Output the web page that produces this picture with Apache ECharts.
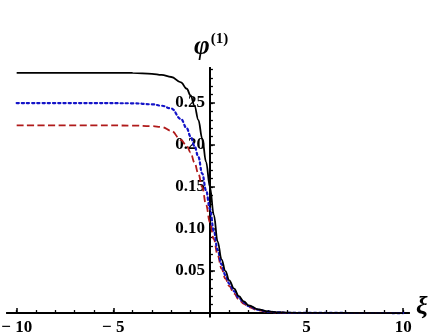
<!DOCTYPE html>
<html><head><meta charset="utf-8">
<script src="https://cdn.jsdelivr.net/npm/echarts@6/dist/echarts.min.js"></script>
<style>html,body{margin:0;padding:0;background:#fff}#c{width:436px;height:335px}</style>
</head><body><div id="c"></div>
<script>
var xi = [-10, -6, -4, -3, -2.5, -2, -1.5, -1.2, -1, -0.8, -0.6, -0.4, -0.2, 0, 0.2, 0.4, 0.6, 0.8, 1.0, 1.25, 1.5, 1.75, 2, 2.5, 3, 3.5, 4, 5, 10];
var blackVals = [0.286, 0.286, 0.2858, 0.2848, 0.2835, 0.281, 0.2745, 0.267, 0.259, 0.247, 0.230, 0.208, 0.180, 0.150, 0.117, 0.085, 0.064, 0.050, 0.039, 0.029, 0.020, 0.0138, 0.0092, 0.0044, 0.002, 0.0009, 0.0004, 0.0001, 0];
var blueVals  = [0.250, 0.250, 0.2497, 0.2485, 0.2468, 0.2435, 0.231, 0.220, 0.210, 0.199, 0.186, 0.166, 0.146, 0.124, 0.098, 0.075, 0.058, 0.045, 0.035, 0.026, 0.018, 0.0125, 0.0083, 0.0039, 0.0017, 0.0008, 0.0003, 0.0001, 0];
var redVals   = [0.2235, 0.2235, 0.2232, 0.2225, 0.2215, 0.217, 0.206, 0.199, 0.191, 0.179, 0.166, 0.150, 0.129, 0.108, 0.088, 0.069, 0.053, 0.041, 0.032, 0.023, 0.016, 0.011, 0.0072, 0.0033, 0.0014, 0.0006, 0.0003, 0.0001, 0];
var xMinorTicks = [-10,-9,-8,-7,-6,-5,-4,-3,-2,-1,1,2,3,4,5,6,7,8,9,10];
var xMajorTicks = [-10, -5, 5, 10];
var yMinorTicks = [0.01,0.02,0.03,0.04,0.05,0.06,0.07,0.08,0.09,0.10,0.11,0.12,0.13,0.14,0.15,0.16,0.17,0.18,0.19,0.20,0.21,0.22,0.23,0.24,0.25,0.26,0.27,0.28,0.29];
var yMajorTicks = [0.05, 0.10, 0.15, 0.20, 0.25];

function zip(a, b) { return a.map(function (v, i) { return [v, b[i]]; }); }

var font = '"Liberation Serif", "DejaVu Serif", serif';
var chart = echarts.init(document.getElementById('c'), null, {renderer: 'canvas'});
var axisLineStyle = {color: '#000', width: 2};
chart.setOption({
  animation: false,
  backgroundColor: '#fff',
  title: [
    {text: '{a|φ}{b|(1)}', left: 189, top: 27,
     textStyle: {rich: {
       a: {fontFamily: font, fontSize: 27, fontStyle: 'italic', fontWeight: 'bold', color: '#000', verticalAlign: 'bottom'},
       b: {fontFamily: font, fontSize: 15, fontWeight: 'bold', color: '#000', verticalAlign: 'top', padding: [0, 0, 14, 1]}
     }}},
    {text: 'ξ', left: 411, top: 289,
     textStyle: {fontFamily: font, fontSize: 26, fontStyle: 'italic', fontWeight: 'bold', color: '#000'}}
  ],
  grid: {left: 7, top: 68, width: 402, bottom: 18.6, containLabel: false, outerBoundsMode: 'none'},
  xAxis: [
    {type: 'value', min: -10.5, max: 10.3, position: 'bottom', splitLine: {show: false},
     axisLine: {onZero: true, onZeroAxisIndex: 0, lineStyle: axisLineStyle},
     axisTick: {inside: true, length: 3, customValues: xMinorTicks, lineStyle: {color: '#000', width: 1.3}},
     axisLabel: {customValues: xMajorTicks, margin: 3, color: '#000', fontFamily: font, fontSize: 17, fontWeight: 'bold',
       formatter: function (v) { return v < 0 ? '\u2212 ' + Math.abs(v) : String(v); }}},
    {type: 'value', min: -10.5, max: 10.3, position: 'bottom', splitLine: {show: false},
     axisLine: {onZero: true, onZeroAxisIndex: 0, lineStyle: axisLineStyle},
     axisTick: {inside: true, length: 5, customValues: xMajorTicks, lineStyle: {color: '#000', width: 1.5}},
     axisLabel: {show: false}}
  ],
  yAxis: [
    {type: 'value', min: -0.004, max: 0.2917, position: 'left', splitLine: {show: false},
     axisLine: {onZero: true, onZeroAxisIndex: 0, lineStyle: axisLineStyle},
     axisTick: {inside: true, length: 3, customValues: yMinorTicks, lineStyle: {color: '#000', width: 1.3}},
     axisLabel: {customValues: yMajorTicks, margin: -198, color: '#000', fontFamily: font, fontSize: 17, fontWeight: 'bold',
       formatter: function (v) { return v.toFixed(2); }}},
    {type: 'value', min: -0.004, max: 0.2917, position: 'left', splitLine: {show: false},
     axisLine: {onZero: true, onZeroAxisIndex: 0, lineStyle: axisLineStyle},
     axisTick: {inside: true, length: 5, customValues: yMajorTicks, lineStyle: {color: '#000', width: 1.5}},
     axisLabel: {show: false}}
  ],
  series: [
    {type: 'line', data: zip(xi, redVals), showSymbol: false, smooth: 0.4, smoothMonotone: 'x', z: 3,
     lineStyle: {color: '#b01a1a', width: 1.8, type: [7, 3.5]}},
    {type: 'line', data: zip(xi, blueVals), showSymbol: false, smooth: 0.4, smoothMonotone: 'x', z: 4,
     lineStyle: {color: '#1414c8', width: 2.2, type: [2.2, 3], cap: 'round'}},
    {type: 'line', data: zip(xi, blackVals), showSymbol: false, smooth: 0.4, smoothMonotone: 'x', z: 5,
     lineStyle: {color: '#000', width: 1.8}}
  ]
});
</script></body></html>
